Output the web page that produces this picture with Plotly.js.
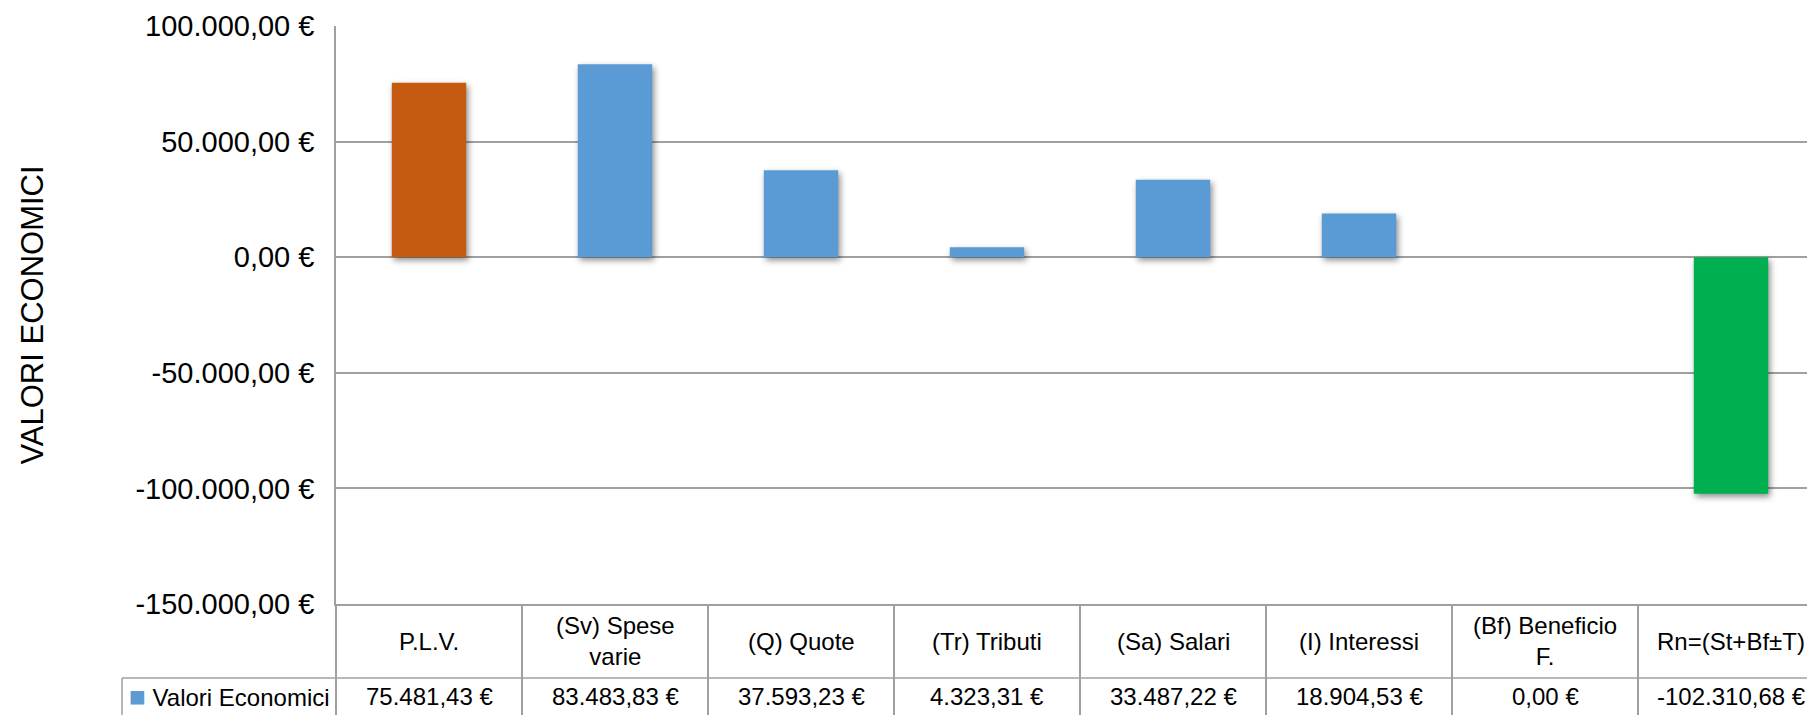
<!DOCTYPE html>
<html>
<head>
<meta charset="utf-8">
<script src="https://cdn.plot.ly/plotly-3.0.1.min.js"></script>
<style>
  html, body { margin: 0; padding: 0; overflow: hidden; background: #fff; }
  #chart { width: 1824px; height: 715px; }
  .barlayer .point path { filter: drop-shadow(2px 3px 3px rgba(0,0,0,0.45)); }
</style>
</head>
<body>
<div id="chart"></div>
<script>
const categories = ["P.L.V.", "(Sv) Spese varie", "(Q) Quote", "(Tr) Tributi", "(Sa) Salari", "(I) Interessi", "(Bf) Beneficio F.", "Rn=(St+Bf±T)"];
const headerLabels = ["P.L.V.", "(Sv) Spese<br>varie", "(Q) Quote", "(Tr) Tributi", "(Sa) Salari", "(I) Interessi", "(Bf) Beneficio<br>F.", "Rn=(St+Bf±T)"];
const values = [75481.43, 83483.83, 37593.23, 4323.31, 33487.22, 18904.53, 0.00, -102310.68];
const barColors = ["#C55A11", "#5B9BD5", "#5B9BD5", "#5B9BD5", "#5B9BD5", "#5B9BD5", "#5B9BD5", "#00B050"];
const seriesName = "Valori Economici";
const yTickVals = [100000, 50000, 0, -50000, -100000, -150000];
const yTitle = "VALORI ECONOMICI";

function fmtEuro(v) {
  const neg = v < 0;
  const parts = Math.abs(v).toFixed(2).split(".");
  const intPart = parts[0].replace(/\B(?=(\d{3})+(?!\d))/g, ".");
  return (neg ? "-" : "") + intPart + "," + parts[1] + " €";
}

const FONT = "'Liberation Sans Narrow', 'Arial Narrow', 'Liberation Sans', Arial, sans-serif";
const GRID = "#A0A0A0";

const annotations = [];
categories.forEach((c, i) => {
  annotations.push({
    x: c, xref: "x", y: 0, yref: "paper", yanchor: "middle", yshift: -37,
    text: headerLabels[i], showarrow: false,
    font: { family: FONT, size: 24, color: "#000" }
  });
  annotations.push({
    x: c, xref: "x", y: 0, yref: "paper", yanchor: "middle", yshift: -92,
    text: fmtEuro(values[i]), showarrow: false,
    font: { family: FONT, size: 24, color: "#000" }
  });
});
annotations.push({
  x: 0, xref: "paper", xanchor: "right", xshift: -4,
  y: 0, yref: "paper", yanchor: "middle", yshift: -92,
  text: '<span style="color:#5B9BD5;font-size:28px">■</span> ' + seriesName, showarrow: false,
  font: { family: FONT, size: 24, color: "#000" }
});

const data = [{
  type: "bar",
  name: seriesName,
  x: categories,
  y: values,
  marker: { color: barColors, line: { width: 0 } },
  hoverinfo: "x+y"
}];

const layout = {
  width: 1824, height: 715,
  margin: { l: 336, r: 0, t: 26, b: 111, pad: 0 },
  paper_bgcolor: "#fff", plot_bgcolor: "#fff",
  showlegend: false,
  bargap: 0.6,
  font: { family: FONT, color: "#000" },
  xaxis: {
    type: "category",
    tickson: "boundaries",
    ticks: "outside", ticklen: 130, tickwidth: 1.5, tickcolor: GRID,
    showticklabels: false,
    showline: true, linecolor: GRID, linewidth: 1.5,
    showgrid: false, zeroline: false,
    range: [-0.5, 7.5]
  },
  yaxis: {
    range: [-150000, 100000],
    tickvals: yTickVals,
    ticktext: yTickVals.map(fmtEuro),
    tickfont: { family: FONT, size: 29, color: "#000" },
    ticks: "", ticklabelstandoff: 14,
    showgrid: true, gridcolor: GRID, gridwidth: 1.5,
    zeroline: false,
    showline: true, linecolor: GRID, linewidth: 1.5,
    title: { text: yTitle, font: { family: FONT, size: 31, color: "#000" }, standoff: 83 }
  },
  annotations: annotations,
  shapes: [
    { type: "line", xref: "paper", x0: -0.1438, x1: 1, yref: "paper", ysizemode: "pixel", yanchor: 0, y0: -74, y1: -74,
      line: { color: GRID, width: 1.5 } },
    { type: "line", xref: "paper", x0: -0.1438, x1: -0.1438, yref: "paper", ysizemode: "pixel", yanchor: 0, y0: -74, y1: -140,
      line: { color: GRID, width: 1.5 } }
  ]
};

Plotly.newPlot("chart", data, layout, { displayModeBar: false, staticPlot: false });
</script>
</body>
</html>
